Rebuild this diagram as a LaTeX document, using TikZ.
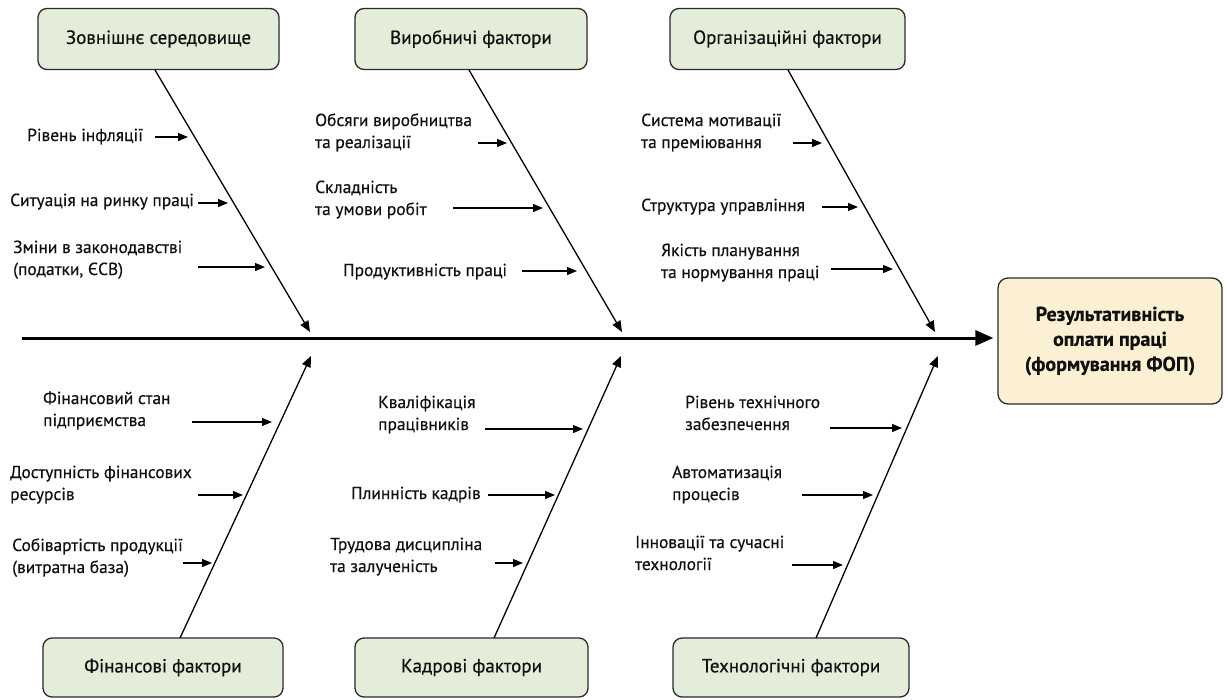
\documentclass[tikz,border=0pt]{standalone}
\usepackage{fontspec}
\setmainfont{PT Sans}[FakeBold=0.45]
\usetikzlibrary{arrows.meta}
\definecolor{boxgreen}{HTML}{E3EDDA}
\definecolor{boxyellow}{HTML}{FBF0D3}
\definecolor{linegray}{HTML}{2B2B2B}
\definecolor{txt}{HTML}{111111}
\begin{document}
\begin{tikzpicture}[x=1pt,y=-1pt,
  catbox/.style={draw=linegray, line width=1.3pt, rounded corners=9pt, fill=boxgreen,
    minimum height=61pt, inner sep=0pt, text=txt, font=\fontsize{19}{22}\selectfont},
  resbox/.style={draw=linegray, line width=1.3pt, rounded corners=10pt, fill=boxyellow,
    minimum width=224pt, minimum height=126pt, inner sep=0pt, align=center, text=txt,
    font=\fontsize{20}{25}\selectfont\bfseries},
  lbl/.style={anchor=west, inner sep=0pt, align=left, text height=11.5pt, text depth=3.5pt,
    text=txt, font=\fontsize{17.4}{22}\selectfont},
  spine/.style={line width=3pt, -{Triangle[length=18pt,width=15pt]}},
  bone/.style={line width=1.3pt, -{Triangle[length=11pt,width=9pt]}},
  sub/.style={line width=1.2pt, -{Triangle[length=10pt,width=8pt]}}
]
\useasboundingbox[fill=white] (0,0) rectangle (1228,699);

% category boxes
\node[catbox, minimum width=241pt] (z1) at (158.5,39) {Зовнішнє середовище};
\node[catbox, minimum width=232pt] (z2) at (471,39) {Виробничі фактори};
\node[catbox, minimum width=235pt] (z3) at (787.5,39) {Організаційні фактори};
\node[catbox, minimum width=240pt, minimum height=59pt] (f1) at (163,667.5) {Фінансові фактори};
\node[catbox, minimum width=233pt, minimum height=59pt] (f2) at (471.5,667.5) {Кадрові фактори};
\node[catbox, minimum width=236pt, minimum height=59pt] (f3) at (791,667.5) {Технологічні фактори};
\node[resbox] (res) at (1110,341) {Результативність\\оплати праці\\(формування ФОП)};

% spine
\coordinate (spst) at (22,338);
\draw[spine, shorten >=4pt] (spst) -- (spst -| res.west);

% bone coordinates
\coordinate (z1s) at (155,70);   \coordinate (z1t) at (310,332);
\coordinate (z2s) at (469,70);   \coordinate (z2t) at (622,332);
\coordinate (z3s) at (788,70);   \coordinate (z3t) at (935,332);
\coordinate (f1s) at (180,638);  \coordinate (f1t) at (311,356);
\coordinate (f2s) at (494,638);  \coordinate (f2t) at (621,356);
\coordinate (f3s) at (816,638);  \coordinate (f3t) at (938,356);
\foreach \b in {z1,z2,z3,f1,f2,f3} \draw[bone] (\b s) -- (\b t);

% top 1
\node[lbl] (a11) at (27,137) {Рівень інфляції};
\node[lbl] (a12) at (10,202) {Ситуація на ринку праці};
\node[lbl] (a13) at (13,271) {Зміни в законодавстві\\(податки, ЄСВ)};
% top 2
\node[lbl] (a21) at (315,144) {Обсяги виробництва\\та реалізації};
\node[lbl] (a22) at (315,211) {Складність\\та умови робіт};
\node[lbl] (a23) at (343,272) {Продуктивність праці};
% top 3
\node[lbl] (a31) at (641,144) {Система мотивації\\та преміювання};
\node[lbl] (a32) at (641,207) {Структура управління};
\node[lbl] (a33) at (661,274) {Якість планування\\та нормування праці};
% bottom 1
\node[lbl] (b11) at (43,422) {Фінансовий стан\\підприємства};
\node[lbl] (b12) at (10,496) {Доступність фінансових\\ресурсів};
\node[lbl] (b13) at (12,569) {Собівартість продукції\\(витратна база)};
% bottom 2
\node[lbl] (b21) at (378,426) {Кваліфікація\\працівників};
\node[lbl] (b22) at (351,495) {Плинність кадрів};
\node[lbl] (b23) at (330,568) {Трудова дисципліна\\та залученість};
% bottom 3
\node[lbl] (b31) at (685,426) {Рівень технічного\\забезпечення};
\node[lbl] (b32) at (672,496) {Автоматизація\\процесів};
\node[lbl] (b33) at (635,566) {Інновації та сучасні\\технології};

% sub-cause arrows: start and end coordinates
\foreach \n/\xs/\xe/\y in {
  a11/155/188/137, a12/198/228/203, a13/198/265/267,
  a21/478/507/143, a22/453/543/208, a23/522/577/271,
  a31/793/822/143, a32/822/858/207, a33/831/893/269,
  b11/192/272/422, b12/198/243/495, b13/183/212/563,
  b21/485/583/429, b22/488/555/495, b23/495/523/563,
  b31/830/902/428, b32/802/873/495, b33/792/843/565}{
  \coordinate (\n s) at (\xs,\y);
  \coordinate (\n e) at (\xe,\y);
  \draw[sub] (\n s) -- (\n e);
}
\end{tikzpicture}
\end{document}
